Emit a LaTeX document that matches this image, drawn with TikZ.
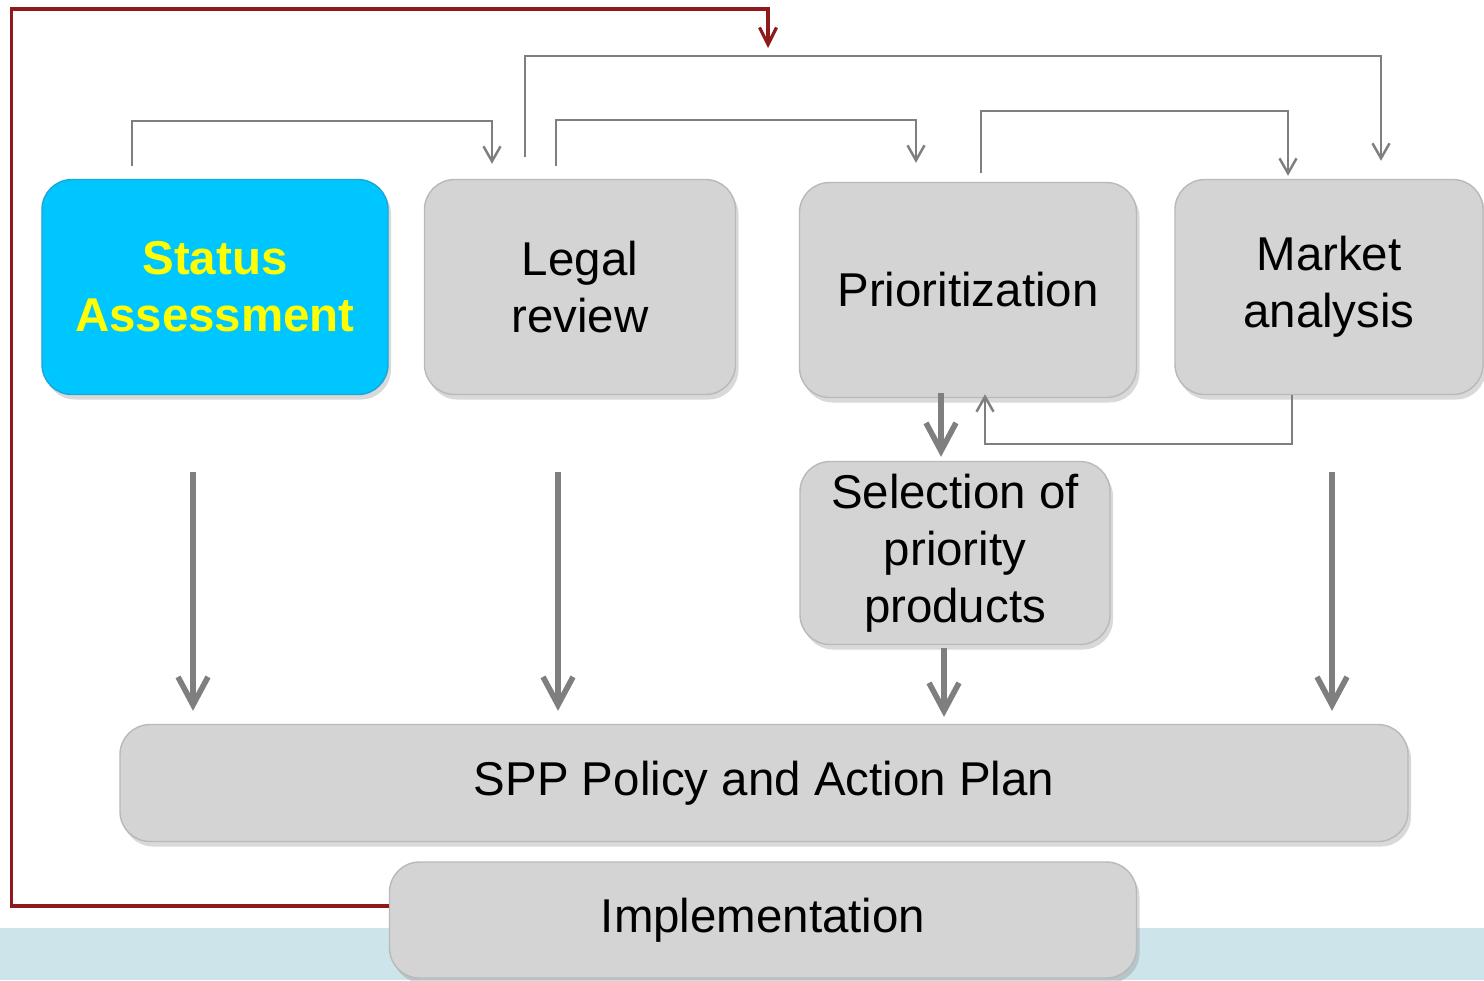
\documentclass[tikz,border=0pt]{standalone}
\usepackage{fontspec}
\setmainfont{Liberation Sans}
\usetikzlibrary{arrows.meta,shadows}
\definecolor{boxgray}{HTML}{D4D4D4}
\definecolor{skyblue}{HTML}{00C6FF}
\definecolor{skyedge}{HTML}{1AA6D8}
\definecolor{lemon}{HTML}{FFFF00}
\definecolor{linkgray}{HTML}{7F7F7F}
\definecolor{backred}{HTML}{8E1A1A}
\definecolor{band}{HTML}{CCE4EA}

\begin{document}
\begin{tikzpicture}[box/.style={rectangle, rounded corners=0.3cm, draw=gray!55, fill=boxgray, align=center, inner sep=0pt,
      font=\fontsize{13.5}{16.2}\selectfont, drop shadow={opacity=0.3, shadow xshift=0.03cm, shadow yshift=-0.05cm}},
    hibox/.style={box, fill=skyblue, draw=skyedge, text=lemon, font=\fontsize{13.5}{16.2}\selectfont\bfseries},
    link/.style={draw=linkgray, line width=0.7pt, -{Straight Barb[length=0.15cm,width=0.17cm]}},
    flow/.style={draw=linkgray, line width=1.6pt, -{Straight Barb[length=0.28cm,width=0.3cm]}},
    back/.style={draw=backred, line width=0.9pt, -{Straight Barb[length=0.17cm,width=0.17cm]}}]
    \useasboundingbox (0,0) rectangle (14.84,-9.80);
    \fill[band] (0,-9.28) rectangle (14.84,-9.80);

    \node[hibox, minimum width=3.46cm, minimum height=2.15cm] (status) at (2.15,-2.87) {Status\\Assessment};
    \node[box, minimum width=3.11cm, minimum height=2.15cm] (legal) at (5.80,-2.87) {Legal\\review};
    \node[box, minimum width=3.37cm, minimum height=2.15cm] (prior) at (9.68,-2.90) {Prioritization};
    \node[box, minimum width=3.08cm, minimum height=2.15cm] (market) at (13.29,-2.87) {Market\\analysis};
    \node[box, minimum width=3.10cm, minimum height=1.83cm] (select) at (9.55,-5.53) {Selection of\\priority\\products};
    \node[box, minimum width=12.88cm, minimum height=1.17cm] (spp) at (7.64,-7.83) {SPP Policy and Action Plan};
    \node[box, minimum width=7.47cm, minimum height=1.16cm] (impl) at (7.63,-9.20) {Implementation};
    \coordinate (loop) at (7.68,-0.48);

    \draw[back] ([yshift=0.14cm]impl.west) -- ++(-3.77,0) |- ([yshift=0.39cm]loop) -- (loop);

    \draw[link] ([xshift=-0.83cm,yshift=0.13cm]status.north) -- ++(0,0.45) -| ([xshift=-0.88cm,yshift=0.15cm]legal.north);
    \draw[link] ([xshift=-0.55cm,yshift=0.22cm]legal.north) -- ++(0,1.01) -| ([xshift=0.52cm,yshift=0.18cm]market.north);
    \draw[link] ([xshift=-0.24cm,yshift=0.13cm]legal.north) -- ++(0,0.46) -| ([xshift=-0.52cm,yshift=0.19cm]prior.north);
    \draw[link] ([xshift=0.13cm,yshift=0.09cm]prior.north) -- ++(0,0.62) -| ([xshift=-0.41cm,yshift=0.03cm]market.north);
    \draw[link] ([xshift=-0.37cm]market.south) -- ++(0,-0.49) -| ([xshift=0.17cm,yshift=0.04cm]prior.south);

    \draw[flow, shorten >=0.13cm] ([xshift=-0.22cm,yshift=-0.77cm]status.south) coordinate (s1) -- (s1 |- spp.north);
    \draw[flow, shorten >=0.13cm] ([xshift=-0.22cm,yshift=-0.77cm]legal.south) coordinate (s2) -- (s2 |- spp.north);
    \draw[flow, shorten >=0.13cm] ([xshift=0.03cm,yshift=-0.77cm]market.south) coordinate (s3) -- (s3 |- spp.north);
    \draw[flow, shorten >=0.04cm] ([xshift=-0.27cm,yshift=0.05cm]prior.south) coordinate (s4) -- (s4 |- select.north);
    \draw[flow, shorten >=0.07cm] ([xshift=-0.11cm,yshift=-0.03cm]select.south) coordinate (s5) -- (s5 |- spp.north);
\end{tikzpicture}
\end{document}
